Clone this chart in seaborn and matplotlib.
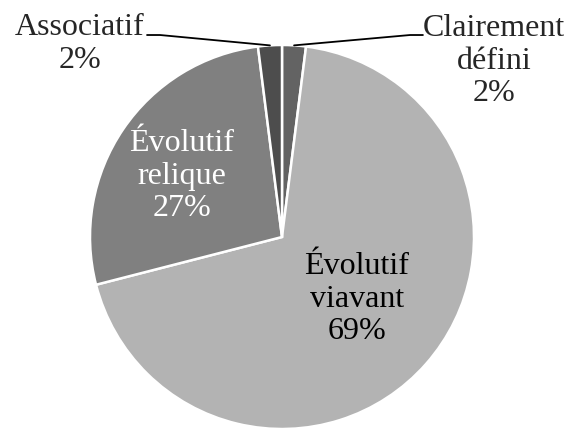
"""Pie chart of category shares"""

import numpy as np
import matplotlib
matplotlib.use('Agg')
import matplotlib.pyplot as plt
import seaborn as sns

labels = ['Clairement\ndéfini', 'Évolutif\nviavant', 'Évolutif\nrelique', 'Associatif']
values = [2, 69, 27, 2]
colors = ['#636363', '#b3b3b3', '#808080', '#4d4d4d']

sns.set_theme(style='white')
plt.rcParams['font.family'] = ['Liberation Serif', 'DejaVu Serif']

fig = plt.figure(figsize=(5.72, 4.32), dpi=100)
ax = fig.add_axes([90 / 572, 3 / 432, 384 / 572, 384 / 432])

wedges, _ = ax.pie(values, colors=colors, startangle=90, counterclock=False,
                   wedgeprops=dict(edgecolor='white', linewidth=1.8))
ax.set_xlim(-1, 1)
ax.set_ylim(-1, 1)
ax.set_aspect('equal')
ax.axis('off')


def edge_point(w):
    ang = np.deg2rad((w.theta1 + w.theta2) / 2)
    return np.cos(ang), np.sin(ang)


fs = 23
ls = 1.15
txt = dict(ha='center', va='center', fontsize=fs, linespacing=ls,
           family=['Liberation Serif', 'DejaVu Serif'])
pcts = ['{}%'.format(v) for v in values]

# small slices: labels outside with leader lines
x0, y0 = edge_point(wedges[0])
ax.plot([x0, 0.667, 0.734], [y0, 1.052, 1.052], color='black', lw=1.3, clip_on=False)
ax.text(1.104, 0.916, labels[0] + '\n' + pcts[0], **txt)

x3, y3 = edge_point(wedges[3])
ax.plot([x3, -0.635, -0.703], [y3, 1.052, 1.052], color='black', lw=1.3, clip_on=False)
ax.text(-1.052, 1.005, labels[3] + '\n' + pcts[3], **txt)

# big slices: labels inside
ax.text(0.39, -0.323, labels[1] + '\n' + pcts[1], color='black', **txt)
ax.text(-0.523, 0.317, labels[2] + '\n' + pcts[2], color='white', **txt)

plt.savefig('out.png', dpi=100)
